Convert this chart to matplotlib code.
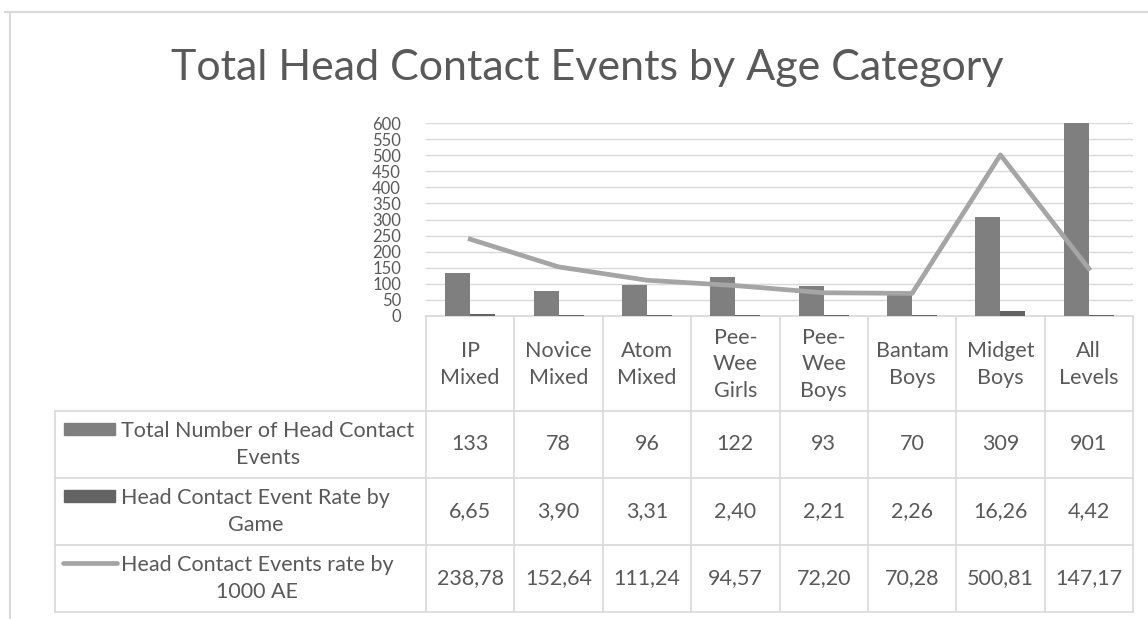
import numpy as np
import matplotlib.pyplot as plt

plt.rcParams['font.family'] = ['Lato', 'DejaVu Sans']

categories = ["IP\nMixed", "Novice\nMixed", "Atom\nMixed", "Pee-\nWee\nGirls", "Pee-\nWee\nBoys",
              "Bantam\nBoys", "Midget\nBoys", "All\nLevels"]
total_events = [133, 78, 96, 122, 93, 70, 309, 901]
rate_by_game = [6.65, 3.90, 3.31, 2.40, 2.21, 2.26, 16.26, 4.42]
rate_by_1000ae = [238.78, 152.64, 111.24, 94.57, 72.20, 70.28, 500.81, 147.17]
series_names = ["Total Number of Head Contact\nEvents", "Head Contact Event Rate by\nGame",
                "Head Contact Events rate by\n1000 AE"]

W, H = 1148, 619
txt = "#595959"
grid_c = "#d9d9d9"
c_bar1, c_bar2, c_line = "#7f7f7f", "#636363", "#a5a5a5"
fs = 15.5
ls = 1.42

fig = plt.figure(figsize=(W / 100, H / 100), dpi=100)

# overlay in pixel coords for border, title and data table
ov = fig.add_axes([0, 0, 1, 1])
ov.set_xlim(0, W)
ov.set_ylim(H, 0)
ov.axis('off')

# chart border
ov.plot([5, W], [12, 12], color=grid_c, lw=1.5)
ov.plot([10, 10], [12, H], color=grid_c, lw=1.5)

ov.text(587, 80, "Total Head Contact Events by Age Category", ha='center', va='baseline',
        fontsize=31, color=txt)

# plot area
left, right, top, bottom = 426, 1133, 123, 316
ax = fig.add_axes([left / W, 1 - bottom / H, (right - left) / W, (bottom - top) / H])
ax.patch.set_alpha(0)
n = len(total_events)
x = np.arange(n)
w = 0.283
ax.bar(x - w / 2, total_events, w, color=c_bar1, zorder=2)
ax.bar(x + w / 2, rate_by_game, w, color=c_bar2, zorder=2)
ax.plot(x, rate_by_1000ae, color=c_line, lw=3.4, zorder=3, solid_joinstyle='round')
ax.set_xlim(-0.5, n - 0.5)
ax.set_ylim(0, 600)
ax.set_yticks(range(0, 601, 50))
ax.set_xticks([])
ax.grid(axis='y', color=grid_c, lw=1, zorder=0)
for s in ax.spines.values():
    s.set_visible(False)
ax.tick_params(axis='y', length=0, pad=18, labelsize=12, labelcolor=txt)

# data table
col_w = (right - left) / n
rows = [bottom, 411, 478, 545, 612]
tbl_left = 55
line_kw = dict(color=grid_c, lw=1.2)
ov.plot([left, right], [bottom, bottom], **line_kw)
for y in rows[1:]:
    ov.plot([tbl_left, right], [y, y], **line_kw)
ov.plot([tbl_left, tbl_left], [rows[1], rows[-1]], **line_kw)
for i in range(n + 1):
    xx = left + i * col_w
    ov.plot([xx, xx], [bottom, rows[-1]], **line_kw)

for i, cat in enumerate(categories):
    cx = left + (i + 0.5) * col_w
    ov.text(cx, (rows[0] + rows[1]) / 2 + 1, cat, ha='center', va='center', fontsize=fs,
            color=txt, linespacing=ls)

fmt_rows = [[str(v) for v in total_events],
            [f"{v:.2f}".replace('.', ',') for v in rate_by_game],
            [f"{v:.2f}".replace('.', ',') for v in rate_by_1000ae]]
for r, vals in enumerate(fmt_rows):
    cy = (rows[r + 1] + rows[r + 2]) / 2
    for i, v in enumerate(vals):
        ov.text(left + (i + 0.5) * col_w, cy, v, ha='center', va='center', fontsize=fs, color=txt)
    ov.text(121, cy, series_names[r], ha='left', va='center', multialignment='center',
            fontsize=fs, color=txt, linespacing=ls)
    ky = cy - 16
    if r < 2:
        ov.add_patch(plt.Rectangle((64, ky - 6), 51, 12, color=[c_bar1, c_bar2][r]))
    else:
        ov.plot([63, 117], [ky, ky], color=c_line, lw=3.4, solid_capstyle='round')

fig.savefig("out.png", dpi=100)
